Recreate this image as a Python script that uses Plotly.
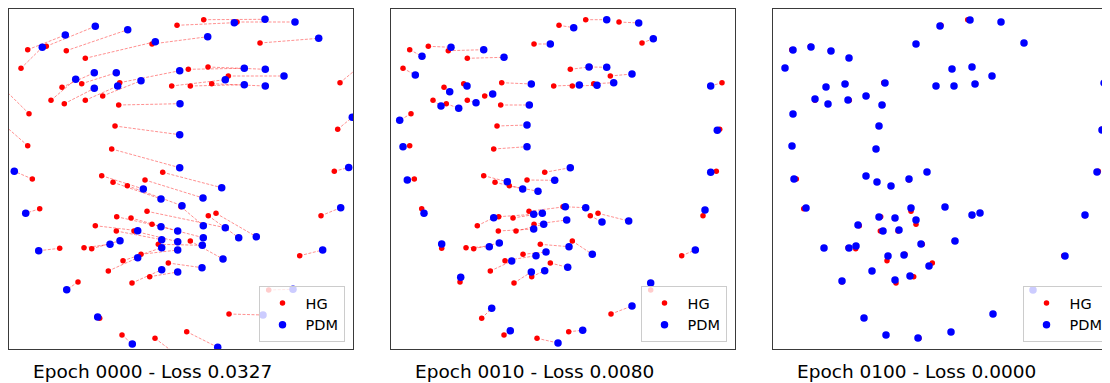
import plotly.graph_objects as go

# ---------------- data (landmark coordinates, image space: x right, y down) ----------------
hg_x = [18.7, 37.3, 57.3, 76.3, 12.0, 143.0, 168.0, 194.7, 228.0, 251.0,
        179.3, 199.0, 219.3, 162.7, 181.3, 202.7, 331.0, 53.0, 72.7, 110.7,
        42.0, 55.3, 76.3, 93.7, 109.7, 20.0, 106.0, 18.7, 102.7, 328.7,
        23.3, 92.7, 104.0, 118.3, 136.0, 153.7, 325.3, 30.7, 138.0, 172.0,
        199.3, 207.0, 312.0, 107.7, 122.0, 143.0, 86.3, 107.3, 125.0, 149.3,
        181.3, 50.7, 75.0, 82.7, 114.0, 132.0, 159.3, 290.7, 99.3, 69.0,
        123.0, 140.7, 259.7, 220.0, 90.7, 113.0, 146.0, 177.7]
hg_y = [49.7, 46.3, 50.7, 58.3, 68.3, 44.0, 25.3, 19.7, 22.0, 43.0,
        69.3, 67.0, 76.0, 86.0, 86.0, 83.7, 82.7, 87.3, 83.7, 82.7,
        100.3, 103.7, 100.3, 96.0, 105.0, 113.7, 126.0, 145.7, 149.0, 129.3,
        179.0, 175.7, 182.3, 185.7, 180.0, 172.3, 171.3, 208.7, 211.3, 206.7,
        215.7, 213.3, 215.7, 216.7, 218.0, 224.3, 225.7, 231.0, 231.0, 244.3,
        241.0, 248.3, 247.7, 248.7, 260.7, 254.3, 263.0, 255.7, 271.0, 282.0,
        283.0, 276.7, 290.0, 314.0, 318.3, 335.0, 338.3, 331.7]

pdm_e0000_x = [56.3, 86.3, 118.7, 146.3, 33.3, 198.7, 225.3, 256.0, 286.0, 309.7,
               235.3, 256.3, 275.0, 216.3, 235.3, 256.3, 356.0, 85.3, 107.3, 170.7,
               66.7, 85.3, 108.7, 132.0, 171.0, -12.0, 170.7, -14.0, 170.7, 343.3,
               5.3, 134.3, 152.0, 173.0, 194.0, 212.7, 339.7, 16.7, 216.3, 194.3,
               229.7, 247.3, 331.7, 152.0, 168.7, 194.3, 128.7, 152.7, 168.7, 193.3,
               214.0, 29.7, 101.0, 111.0, 152.7, 168.7, 193.0, 313.7, 128.7, 57.7,
               152.7, 168.7, 284.0, 254.0, 88.7, 123.3, 168.0, 208.7]
pdm_e0000_y = [35.0, 26.3, 29.7, 41.7, 47.3, 36.7, 22.7, 19.3, 22.0, 38.3,
               68.3, 69.3, 76.0, 79.7, 84.7, 86.0, 62.0, 72.7, 72.7, 70.7,
               79.3, 88.3, 86.0, 80.7, 103.7, 82.0, 134.7, 117.0, 167.7, 117.3,
               171.3, 189.0, 199.0, 205.7, 198.0, 187.7, 167.5, 213.3, 227.7, 225.7,
               237.7, 236.7, 207.7, 226.7, 231.0, 237.7, 230.7, 239.7, 241.7, 245.3,
               259.0, 250.7, 244.3, 240.7, 247.7, 250.0, 267.7, 250.0, 257.7, 289.7,
               269.7, 272.0, 289.3, 315.0, 317.0, 344.0, 355.0, 347.3]

pdm_e0010_x = [31.0, 60.0, 92.7, 113.0, 24.3, 159.3, 182.7, 215.7, 247.7, 262.3,
               198.0, 215.7, 241.0, 188.3, 206.0, 222.7, 319.7, 58.7, 76.0, 140.3,
               50.0, 67.7, 85.0, 101.7, 138.3, 8.7, 136.0, 12.0, 136.0, 326.3,
               16.3, 116.3, 131.7, 147.0, 163.7, 179.3, 319.7, 33.0, 174.3, 194.7,
               211.0, 237.7, 314.0, 142.7, 151.3, 175.7, 102.7, 142.7, 152.7, 178.0,
               201.3, 50.7, 98.3, 108.3, 145.0, 155.0, 176.7, 304.3, 120.7, 69.7,
               140.3, 153.7, 259.7, 241.0, 100.7, 119.3, 167.0, 191.7]
pdm_e0010_y = [56.3, 47.3, 49.7, 57.3, 75.0, 44.0, 27.7, 19.7, 23.0, 38.7,
               67.0, 67.3, 74.0, 85.0, 85.3, 82.7, 86.0, 91.7, 86.0, 84.0,
               106.0, 108.3, 102.7, 94.0, 105.0, 120.3, 125.0, 146.7, 146.7, 130.3,
               180.0, 181.7, 189.0, 191.3, 180.3, 167.7, 172.3, 213.3, 206.7, 207.7,
               222.0, 221.0, 210.0, 214.3, 213.3, 220.0, 217.7, 229.0, 224.3, 246.7,
               254.3, 244.0, 246.7, 243.0, 255.7, 252.0, 267.3, 250.0, 261.0, 277.3,
               272.0, 270.7, 283.0, 306.0, 308.3, 330.7, 343.0, 330.3]

pdm_e0100_x = [20, 38, 58, 76, 12, 143, 167, 197, 228, 251,
               179, 199, 219, 163, 181, 202, 331, 53, 72, 112,
               42, 55, 75, 93, 109, 20, 106, 19, 103, 329,
               21, 93, 104, 118, 136, 154, 324, 33, 138, 172,
               199, 207, 312, 106, 122, 143, 85, 110, 126, 148,
               182, 51, 76, 83, 115, 131, 156, 292, 99, 69,
               122, 137, 260, 220, 91, 113, 145, 178]
pdm_e0100_y = [50, 47, 51, 58, 68, 44, 26, 20, 22, 43,
               69, 67, 76, 86, 86, 84, 83, 87, 84, 83,
               99, 104, 100, 96, 105, 114, 126, 146, 149, 130,
               179, 176, 182, 186, 179, 172, 172, 208, 208, 207,
               215, 213, 215, 217, 218, 220, 225, 231, 230, 244,
               241, 248, 248, 246, 256, 255, 266, 256, 271, 281,
               280, 276, 290, 314, 318, 335, 338, 332]

epochs = ["0000", "0010", "0100"]
losses = [0.0327, 0.0080, 0.0000]
series_names = ["HG", "PDM"]

# ---------------- figure ----------------
OFF = 8  # page body margin
W, H = 1110 - OFF, 383 - OFF
FONT = "DejaVu Sans"
panels = [(pdm_e0000_x, pdm_e0000_y), (pdm_e0010_x, pdm_e0010_y), (pdm_e0100_x, pdm_e0100_y)]
x_px = [(9, 353), (391, 735), (773, 1110)]   # window pixels
y_top, y_bot = 9.0, 349.3                     # window pixels (== data units)

fig = go.Figure()
layout = dict(width=W, height=H, margin=dict(l=0, r=0, t=0, b=0),
              paper_bgcolor="white", plot_bgcolor="white",
              font=dict(family=FONT, color="black"), showlegend=True,
              annotations=[])

for i, (px, py) in enumerate(panels):
    sfx = "" if i == 0 else str(i + 1)
    leg = "legend" if i == 0 else f"legend{i + 1}"
    lx, ly = [], []
    for a, b, c, d in zip(hg_x, hg_y, px, py):
        lx += [a, c, None]
        ly += [b, d, None]
    fig.add_trace(go.Scatter(x=lx, y=ly, mode="lines", xaxis="x" + sfx, yaxis="y" + sfx,
                             line=dict(color="rgba(255,0,0,0.55)", width=0.8, dash="3px,1.5px"),
                             hoverinfo="skip", showlegend=False))
    fig.add_trace(go.Scatter(x=hg_x, y=hg_y, mode="markers", name=series_names[0],
                             xaxis="x" + sfx, yaxis="y" + sfx, legend=leg, legendgroup=f"hg{i}",
                             marker=dict(color="red", size=5.5, line=dict(width=0))))
    fig.add_trace(go.Scatter(x=px, y=py, mode="markers", name=series_names[1],
                             xaxis="x" + sfx, yaxis="y" + sfx, legend=leg, legendgroup=f"pdm{i}",
                             marker=dict(color="blue", size=7.5, line=dict(width=0))))

    x0, x1 = x_px[i]
    axis_common = dict(showgrid=False, zeroline=False, showticklabels=False, ticks="",
                       showline=True, linecolor="#3a3a3a", linewidth=1.2)
    layout["xaxis" + sfx] = dict(domain=[(x0 - OFF) / W, min(1.0, (x1 - OFF) / W)],
                                 range=[0, x1 - x0], anchor="y" + sfx, mirror=True, **axis_common)
    layout["yaxis" + sfx] = dict(domain=[1 - (y_bot - OFF) / H, 1 - (y_top - OFF) / H],
                                 range=[y_bot, y_top], anchor="x" + sfx, mirror=(i < 2),
                                 **axis_common)
    leg_right = x0 + 344 - 8.5
    layout[leg] = dict(x=(leg_right - OFF) / W, xanchor="right",
                       y=1 - (342 - OFF) / H, yanchor="bottom",
                       bgcolor="rgba(255,255,255,0.8)", bordercolor="#cccccc", borderwidth=1,
                       font=dict(family=FONT, size=14.5, color="black"),
                       itemwidth=36, entrywidth=44, entrywidthmode="pixels",
                       traceorder="grouped", tracegroupgap=0)
    layout["annotations"].append(dict(
        x=(x0 + 172 - 29 - OFF) / W, y=1 - (371 - OFF) / H, xref="paper", yref="paper",
        xanchor="center", yanchor="middle", showarrow=False,
        text=f"Epoch {epochs[i]} - Loss {losses[i]:.4f}",
        font=dict(family=FONT, size=18.5, color="black")))

fig.update_layout(**layout)
fig.write_html("out.html")
